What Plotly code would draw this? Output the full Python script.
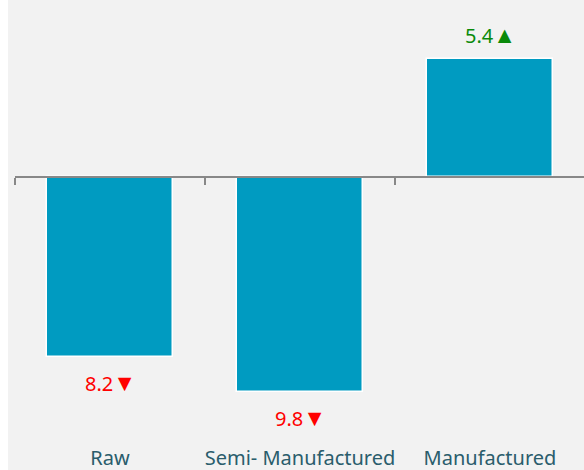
import plotly.graph_objects as go

categories = ["Raw", "Semi- Manufactured", "Manufactured"]
values = [-8.2, -9.8, 5.4]
numbers = ["8.2", "9.8", "5.4"]
arrows = ["▼", "▼", "▲"]
label_colors = ["#ff0000", "#ff0000", "#0a8a0a"]

W, H = 576, 470
ml, mb = 7, 26
plot_w = W - ml
plot_h = H - mb
px_per_cat = 190
px_per_unit = 21.9
zero_y = 177

x_range = [-0.5, -0.5 + plot_w / px_per_cat]
y_top = zero_y / px_per_unit
y_bot = -(plot_h - zero_y) / px_per_unit

fig = go.Figure()
fig.add_trace(go.Bar(
    x=categories, y=values, width=0.66,
    marker=dict(color="#009bc1", line=dict(color="white", width=1.5)),
    hoverinfo="skip", showlegend=False,
))
fig.add_trace(go.Scatter(
    x=categories, y=[0, 0, 0], mode="none", xaxis="x2",
    hoverinfo="skip", showlegend=False,
))

for c, v, n, a, col in zip(categories, values, numbers, arrows, label_colors):
    fig.add_annotation(
        x=c, y=v, text=f"{n}<span style='font-size:23px'>{a}</span>",
        showarrow=False,
        yanchor="middle", yshift=25 if v > 0 else -25,
        font=dict(size=20, color=col, family="Noto Sans"),
    )

fig.update_layout(
    width=W, height=H,
    margin=dict(l=ml, r=0, t=0, b=mb, pad=0, autoexpand=False),
    paper_bgcolor="#f2f2f2", plot_bgcolor="#f2f2f2",
    font=dict(family="Noto Sans", size=20, color="#2a5d6c"),
    xaxis=dict(type="category", categoryarray=categories, range=x_range,
               showgrid=False, zeroline=False, showline=False, ticks="",
               automargin=False,
               tickfont=dict(size=20, color="#2a5d6c")),
    xaxis2=dict(type="category", categoryarray=categories, range=x_range,
                overlaying="x", anchor="free", position=1 - zero_y / plot_h,
                side="bottom", showgrid=False, zeroline=False, automargin=False,
                showline=True, linecolor="#888888", linewidth=2,
                ticks="outside", tickson="boundaries", ticklen=7,
                tickwidth=2, tickcolor="#888888", showticklabels=False),
    yaxis=dict(range=[y_bot, y_top], visible=False, showgrid=False,
               zeroline=False, automargin=False),
    bargap=0,
)

fig.write_html(
    "out.html",
    post_script="document.body.style.margin='0 0 0 8px';document.body.style.overflow='hidden';",
)
